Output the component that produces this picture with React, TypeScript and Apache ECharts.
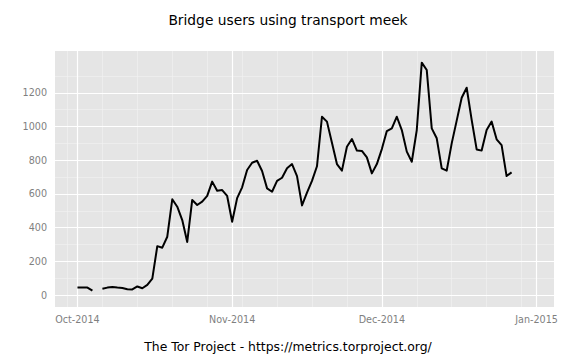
import React, { useEffect, useRef } from "react";
import * as echarts from "echarts";

// Daily bridge users (transport meek), starting 2014-10-01; null = missing day
const startDate = "2014-10-01";
const users: (number | null)[] = [
  44, 44, 44, 26, null, 37, 44, 47, 44, 42,
  34, 33, 51, 40, 60, 97, 290, 281, 346, 568,
  524, 445, 315, 564, 534, 554, 588, 673, 619, 623,
  588, 435, 575, 639, 742, 785, 797, 736, 633, 613,
  677, 696, 752, 777, 706, 532, 607, 677, 764, 1058,
  1029, 904, 777, 738, 880, 926, 857, 855, 817, 722,
  777, 866, 973, 989, 1058, 979, 851, 791, 979, 1379,
  1335, 989, 930, 752, 738, 900, 1035, 1171, 1230, 1039,
  864, 857, 979, 1029, 924, 890, 706, 728,
];

const xTickDates = ["2014-10-01", "2014-11-01", "2014-12-01", "2015-01-01"];
const xTickLabels = ["Oct-2014", "Nov-2014", "Dec-2014", "Jan-2015"];
const xMinorDates = [
  "2014-09-29", "2014-10-06", "2014-10-13", "2014-10-20", "2014-10-27",
  "2014-11-03", "2014-11-10", "2014-11-17", "2014-11-24", "2014-12-08",
  "2014-12-15", "2014-12-22", "2014-12-29",
];
const yTicks = [0, 200, 400, 600, 800, 1000, 1200];
const yMinor = [100, 300, 500, 700, 900, 1100, 1300];
const xRangeDates = ["2014-09-26T12:00:00Z", "2015-01-04T12:00:00Z"];
const yRange = [-71, 1448];

const DAY = 86400000;
const t0 = Date.parse(startDate + "T00:00:00Z");
const dayOf = (s: string) =>
  (Date.parse(s.length > 10 ? s : s + "T00:00:00Z") - t0) / DAY;

const FONT = "DejaVu Sans";

export default function App() {
  const ref = useRef<HTMLDivElement>(null);
  useEffect(() => {
    if (!ref.current) return;
    const chart = echarts.init(ref.current, null, { renderer: "svg" });
    const tickDays = xTickDates.map(dayOf);
    const lineData = users.map((v, i) => [i, v === null ? "-" : v]);
    const noEmph = { disabled: true };
    chart.setOption({
      animation: false,
      backgroundColor: "#ffffff",
      grid: {
        left: 55,
        right: 22,
        top: 51,
        bottom: 53,
        show: true,
        backgroundColor: "#E5E5E5",
        borderWidth: 0,
        outerBoundsMode: "none",
        containLabel: false,
      },
      graphic: [
        {
          type: "text",
          x: 288,
          y: 20,
          style: {
            text: "Bridge users using transport meek",
            textAlign: "center",
            textVerticalAlign: "middle",
            fontFamily: FONT,
            fontSize: 13.8,
            fill: "#000000",
          },
        },
        {
          type: "text",
          x: 288,
          y: 346,
          style: {
            text: "The Tor Project - https://metrics.torproject.org/",
            textAlign: "center",
            textVerticalAlign: "middle",
            fontFamily: FONT,
            fontSize: 12.4,
            fill: "#000000",
          },
        },
      ],
      xAxis: {
        type: "value",
        min: dayOf(xRangeDates[0]),
        max: dayOf(xRangeDates[1]),
        splitLine: { show: false },
        axisLine: { show: false },
        axisTick: {
          show: true,
          customValues: tickDays,
          length: 4,
          lineStyle: { color: "#7F7F7F", width: 1 },
        },
        axisLabel: {
          customValues: tickDays,
          formatter: (v: number) => {
            const i = tickDays.findIndex((d) => Math.abs(d - v) < 0.01);
            return i >= 0 ? xTickLabels[i] : "";
          },
          color: "#7F7F7F",
          fontFamily: FONT,
          fontSize: 9.6,
          margin: 7,
        },
      },
      yAxis: {
        type: "value",
        min: yRange[0],
        max: yRange[1],
        splitLine: { show: false },
        axisLine: { show: false },
        axisTick: {
          show: true,
          customValues: yTicks,
          length: 4,
          lineStyle: { color: "#7F7F7F", width: 1 },
        },
        axisLabel: {
          customValues: yTicks,
          formatter: (v: number) => String(Math.round(v)),
          color: "#7F7F7F",
          fontFamily: FONT,
          fontSize: 9.6,
          margin: 8,
        },
      },
      series: [
        {
          type: "line",
          name: "minor-grid",
          data: [],
          z: 1,
          silent: true,
          markLine: {
            z: 1,
            silent: true,
            symbol: ["none", "none"],
            label: { show: false },
            emphasis: noEmph,
            animation: false,
            lineStyle: { type: "solid", color: "#F2F2F2", width: 0.6 },
            data: [
              ...xMinorDates.map((d) => ({ xAxis: dayOf(d) })),
              ...yMinor.map((v) => ({ yAxis: v })),
            ],
          },
        },
        {
          type: "line",
          name: "major-grid",
          data: [],
          z: 1,
          silent: true,
          markLine: {
            z: 1,
            silent: true,
            symbol: ["none", "none"],
            label: { show: false },
            emphasis: noEmph,
            animation: false,
            lineStyle: { type: "solid", color: "#FFFFFF", width: 1.2 },
            data: [
              ...tickDays.map((d) => ({ xAxis: d })),
              ...yTicks.map((v) => ({ yAxis: v })),
            ],
          },
        },
        {
          type: "line",
          name: "meek",
          data: lineData,
          z: 3,
          showSymbol: false,
          connectNulls: false,
          lineStyle: { color: "#000000", width: 2, join: "round" },
          itemStyle: { color: "#000000" },
          emphasis: noEmph,
        },
      ],
    });
    return () => chart.dispose();
  }, []);
  return (
    <div
      ref={ref}
      style={{ position: "fixed", left: 0, top: 0, width: 576, height: 360 }}
    />
  );
}
